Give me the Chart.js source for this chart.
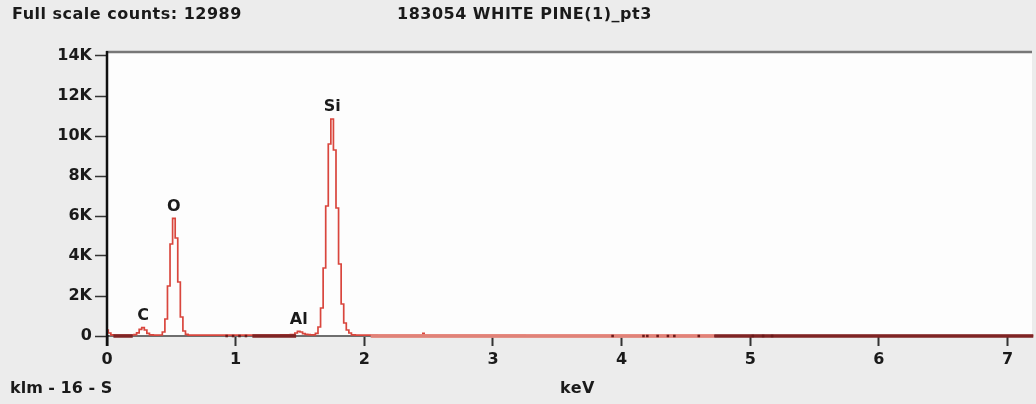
<!DOCTYPE html>
<html>
<head>
<meta charset="utf-8">
<script src="https://cdn.jsdelivr.net/npm/chart.js@4.4.1/dist/chart.umd.min.js"></script>
<style>
  html, body { margin:0; padding:0; background:#ececec; }
  #wrap { position:relative; width:1036px; height:404px; overflow:hidden; }
  canvas { position:absolute; left:0; top:0; }
  .txt { position:absolute; font-family:"DejaVu Sans", Verdana, sans-serif; font-weight:bold; font-size:16px; line-height:18px; color:#1a1a1a; white-space:nowrap; letter-spacing:0.5px; }
</style>
</head>
<body>
<div id="wrap">
  <canvas id="c" width="1036" height="404"></canvas>
  <div class="txt" style="left:12px; top:5px;">Full scale counts: 12989</div>
  <div class="txt" style="left:397px; top:5px;">183054 WHITE PINE(1)_pt3</div>
  <div class="txt" style="left:10px; top:379px; letter-spacing:0;">klm - 16 - S</div>
  <div class="txt" style="left:560px; top:379px;">keV</div>
</div>
<script>
// ---- data ----
const energyKeV = [0.00,0.02,0.04,0.06,0.10,0.14,0.18,0.20,0.22,0.24,0.26,0.28,0.30,0.32,0.34,0.38,0.42,
  0.44,0.46,0.48,0.50,0.52,0.54,0.56,0.58,0.60,0.62,0.64,0.70,0.80,0.90,1.00,1.10,1.20,1.30,1.40,
  1.45,1.47,1.49,1.51,1.53,1.55,1.57,1.59,1.61,1.63,1.65,1.67,1.69,1.71,1.73,1.75,1.77,1.79,1.81,
  1.83,1.85,1.87,1.89,1.91,1.95,2.00,2.20,2.45,2.46,2.47,2.60,3.00,3.50,4.00,4.50,5.00,5.50,6.00,6.50,7.00,7.20];
const counts = [300,150,60,40,40,40,40,50,70,160,330,420,300,130,55,45,50,
  200,850,2500,4600,5880,4900,2700,950,250,80,45,40,45,45,45,45,45,50,55,
  70,150,230,200,120,80,70,60,60,130,450,1400,3400,6500,9600,10850,9300,6400,3600,
  1600,650,300,150,60,45,40,35,30,130,30,30,28,25,25,22,20,20,18,18,18,18];

const xTicks = [0,1,2,3,4,5,6,7];
const yTicks = [0,2000,4000,6000,8000,10000,12000,14000];
const yTickLabels = ['0','2K','4K','6K','8K','10K','12K','14K'];

const peakNames = ['C','O','Al','Si'];
const peakKeV = [0.28,0.52,1.49,1.75];
const peakCounts = [420,5880,230,10850];

const darkSegments = [[0.05,0.20],[1.13,1.47],[4.72,7.20]];
const pinkSegments = [[2.05,4.72]];
const dotKeV = [0.93,0.98,1.03,1.08,3.93,4.17,4.20,4.28,4.36,4.41,4.60,5.02,5.10,5.17];

// ---- build datasets ----
const spectrum = energyKeV.map((e,i)=>({x:e,y:counts[i]}));
function segData(segs){
  const out=[];
  segs.forEach(s=>{ out.push({x:s[0],y:0}); out.push({x:s[1],y:0}); out.push({x:s[1]+0.0001,y:null}); });
  return out;
}
const FONT = '"DejaVu Sans", Verdana, sans-serif';

const overlay = {
  id:'overlay',
  beforeDatasetsDraw(chart){
    const {ctx, chartArea:a} = chart;
    ctx.save();
    ctx.fillStyle='#fdfdfd';
    ctx.fillRect(a.left,a.top,a.right-a.left,a.bottom-a.top-1);
    ctx.restore();
  },
  afterDraw(chart){
    const {ctx, chartArea:a, scales:{x,y}} = chart;
    ctx.save();
    ctx.strokeStyle='#777'; ctx.lineWidth=2.5;
    ctx.beginPath(); ctx.moveTo(a.left-1,a.top); ctx.lineTo(a.right,a.top); ctx.stroke();
    ctx.strokeStyle='#111'; ctx.lineWidth=2.5;
    ctx.beginPath(); ctx.moveTo(a.left,a.top-1); ctx.lineTo(a.left,a.bottom+10); ctx.stroke();
    ctx.fillStyle='#1a1a1a';
    ctx.font='bold 16px '+FONT;
    ctx.textAlign='center'; ctx.textBaseline='middle';
    peakNames.forEach((n,i)=>{
      ctx.fillText(n, x.getPixelForValue(peakKeV[i]), y.getPixelForValue(peakCounts[i])-12);
    });
    ctx.restore();
  }
};

new Chart(document.getElementById('c'), {
  type:'line',
  data:{ datasets:[
    { data: spectrum, borderColor:'#d9463d', borderWidth:1.7, pointRadius:0, stepped:'middle', fill:false, clip:false, order:3 },
    { data: segData(pinkSegments), borderColor:'rgba(228,135,125,0.9)', borderWidth:4, pointRadius:0, spanGaps:false, clip:false, order:2 },
    { data: segData(darkSegments), borderColor:'#7e2424', borderWidth:3.5, pointRadius:0, spanGaps:false, clip:false, order:1 },
    { data: dotKeV.map(e=>({x:e,y:0})), showLine:false, pointStyle:'rect', pointRadius:1.8, backgroundColor:'#6a1a1a', borderWidth:0, clip:false, order:0 }
  ]},
  options:{
    responsive:false, animation:false,
    layout:{ padding:{ top:52, right:0, left:0, bottom:0 } },
    plugins:{ legend:{display:false}, tooltip:{enabled:false} },
    scales:{
      x:{ type:'linear', min:0, max:7.19,
          afterFit(s){ s.height = 68; },
          afterBuildTicks(s){ s.ticks = xTicks.map(v=>({value:v})); },
          ticks:{ font:{ family:FONT, weight:'bold', size:16 }, color:'#1a1a1a', padding:4, maxRotation:0 },
          grid:{ drawOnChartArea:false, tickLength:10, tickWidth:2, tickColor:'#333' },
          border:{ color:'#6e6e6e', width:2 } },
      y:{ min:0, max:14200,
          afterFit(s){ s.width = 107; },
          afterBuildTicks(s){ s.ticks = yTicks.map(v=>({value:v})); },
          ticks:{ font:{ family:FONT, weight:'bold', size:16 }, color:'#1a1a1a', padding:3,
                  callback:(v)=>yTickLabels[yTicks.indexOf(v)] },
          grid:{ drawOnChartArea:false, tickLength:12, tickWidth:1.5, tickColor:'#333' },
          border:{ color:'#111', width:2.5 } }
    }
  },
  plugins:[overlay]
});
</script>
</body>
</html>
